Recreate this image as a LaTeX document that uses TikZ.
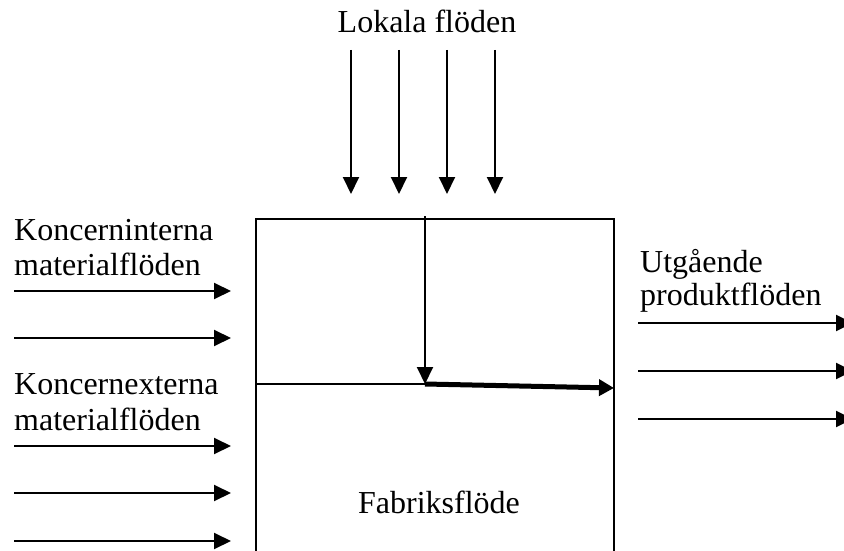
\documentclass[tikz,border=0pt]{standalone}
\usepackage{fontspec}
\setmainfont{Liberation Serif}
\usetikzlibrary{arrows.meta}
\begin{document}
\begin{tikzpicture}[x=1pt,y=-1pt,
  lbl/.style={inner sep=0pt,font=\fontsize{32}{36}\selectfont},
  flow/.style={line width=2pt,-{Triangle[length=17pt,width=16pt]}},
  wall/.style={line width=2pt},
  mainflow/.style={line width=5pt,-{Triangle[length=15pt,width=16pt]}}]
\useasboundingbox (0,0) rectangle (844,551);

% factory block, open at the bottom
\coordinate (bl) at (256,551);
\coordinate (tl) at (256,219);
\coordinate (tr) at (614,219);
\coordinate (br) at (614,551);
\draw[wall] (bl) -- (tl) -- (tr) -- (br);
\coordinate (divL) at (256,384);
\coordinate (join) at (425,384);
\coordinate (dropTop) at (425,216);
\coordinate (outR) at (614,388);
\draw[wall] (divL) -- (join);
\draw[flow] (dropTop) -- (join);
\draw[mainflow] (join) -- (outR);

% local flows from above
\node[lbl,anchor=base] (lok) at (427,33) {Lokala flöden};
\foreach \i/\x in {1/351,2/399,3/447,4/495}{
  \coordinate (ls\i) at (\x,50);
  \coordinate (le\i) at (\x,194);
  \draw[flow] (ls\i) -- (le\i);
}

% incoming material flows on the left
\node[lbl,anchor=base west] (ki1) at (14,240) {Koncerninterna};
\node[lbl,anchor=base west] (ki2) at (14,275) {materialflöden};
\node[lbl,anchor=base west] (ke1) at (14,394) {Koncernexterna};
\node[lbl,anchor=base west] (ke2) at (14,430) {materialflöden};
\foreach \i/\y in {1/291,2/338,3/446,4/493,5/541}{
  \coordinate (is\i) at (14,\y);
  \coordinate (ie\i) at (231,\y);
  \draw[flow] (is\i) -- (ie\i);
}

% outgoing product flows on the right
\node[lbl,anchor=base west] (ut1) at (640,272) {Utgående};
\node[lbl,anchor=base west] (ut2) at (640,305) {produktflöden};
\foreach \i/\y in {1/323,2/371,3/419}{
  \coordinate (os\i) at (638,\y);
  \coordinate (oe\i) at (853,\y);
  \draw[flow] (os\i) -- (oe\i);
}

\node[lbl,anchor=base] (fab) at (439,513) {Fabriksflöde};
\end{tikzpicture}
\end{document}
